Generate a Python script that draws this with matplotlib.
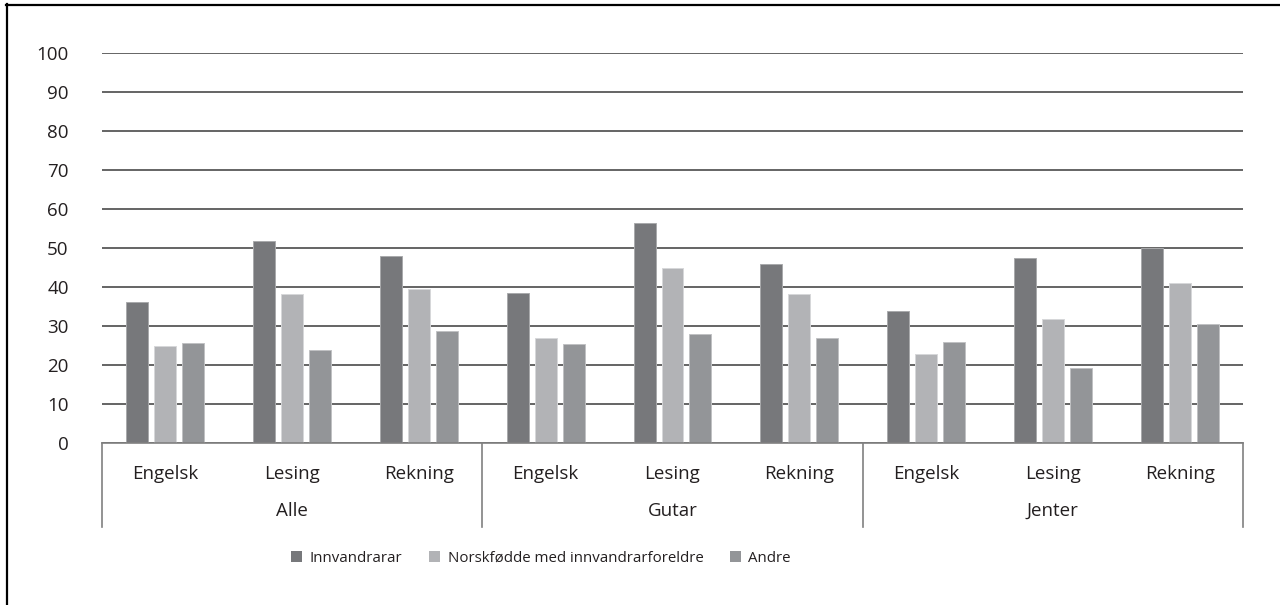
import numpy as np
import matplotlib
matplotlib.use("Agg")
import matplotlib.pyplot as plt
from matplotlib.lines import Line2D

plt.rcParams['font.family'] = ['Open Sans', 'DejaVu Sans']
plt.rcParams['font.size'] = 13.5

groups = ["Alle", "Gutar", "Jenter"]
subjects = ["Engelsk", "Lesing", "Rekning"]
series = ["Innvandrarar", "Norskfødde med innvandrarforeldre", "Andre"]

innvandrarar = [36.2, 51.9, 47.9, 38.5, 56.4, 45.8, 33.8, 47.4, 50.0]
norskfodde = [24.9, 38.2, 39.6, 26.9, 44.9, 38.1, 22.8, 31.8, 41.0]
andre = [25.6, 23.8, 28.6, 25.4, 27.9, 26.8, 25.9, 19.3, 30.5]

colors = ['#77787b', '#b2b3b6', '#939598']
edges = ['#a9aaac', '#d6d7d9', '#c0c1c3']

W, H = 1280, 605
fig = plt.figure(figsize=(W / 100, H / 100), dpi=100)
ax = fig.add_axes([102 / W, (H - 443) / H, (1243 - 102) / W, 390 / H])

x = np.arange(len(innvandrarar))
bw = 22 / 126.8
step = 28 / 126.8
for i, (vals, name) in enumerate(zip([innvandrarar, norskfodde, andre], series)):
    ax.bar(x + (i - 1) * step, vals, width=bw, color=colors[i],
           edgecolor=edges[i], linewidth=0.7, label=name, zorder=3)

ax.set_xlim(-0.5, len(x) - 0.5)
ax.set_ylim(0, 100)
ax.set_yticks(np.arange(0, 101, 10))
ax.yaxis.grid(True, color='#3a3a3a', linewidth=1.1, zorder=0)
ax.tick_params(axis='y', length=0, pad=24, labelcolor='#231f20')
ax.set_xticks([])
for s in ['left', 'right', 'top']:
    ax.spines[s].set_visible(False)
ax.spines['bottom'].set_color('#808080')
ax.spines['bottom'].set_linewidth(1.2)
ax.spines['bottom'].set_zorder(4)

# category labels and group labels below the axis
trans = ax.get_xaxis_transform()
for i in x:
    ax.text(i, -31 / 390, subjects[i % 3], transform=trans, ha='center',
            va='center', color='#231f20')
for g, name in enumerate(groups):
    ax.text(g * 3 + 1, -68 / 390, name, transform=trans, ha='center',
            va='center', color='#231f20')
for b in [-0.5, 2.5, 5.5, 8.5]:
    ax.plot([b, b], [0, -84 / 390], transform=trans, color='#808080',
            linewidth=1.2, clip_on=False)

leg = fig.legend(loc='center', bbox_to_anchor=(541 / W, (H - 558) / H), ncol=3,
                 frameon=False, fontsize=10.8, handlelength=0.75, handleheight=0.75,
                 handletextpad=0.5, columnspacing=1.75)
for h in leg.legend_handles:
    h.set_edgecolor('none')
for t in leg.get_texts():
    t.set_color('#231f20')

# outer frame (only left and top visible in the crop)
fig.add_artist(Line2D([6.5 / W, 6.5 / W], [0, (H - 4) / H], color='black',
                      linewidth=1.6, transform=fig.transFigure))
fig.add_artist(Line2D([6 / W, 1], [(H - 4.5) / H, (H - 4.5) / H], color='black',
                      linewidth=1.6, transform=fig.transFigure))

fig.savefig('out.png', dpi=100)
